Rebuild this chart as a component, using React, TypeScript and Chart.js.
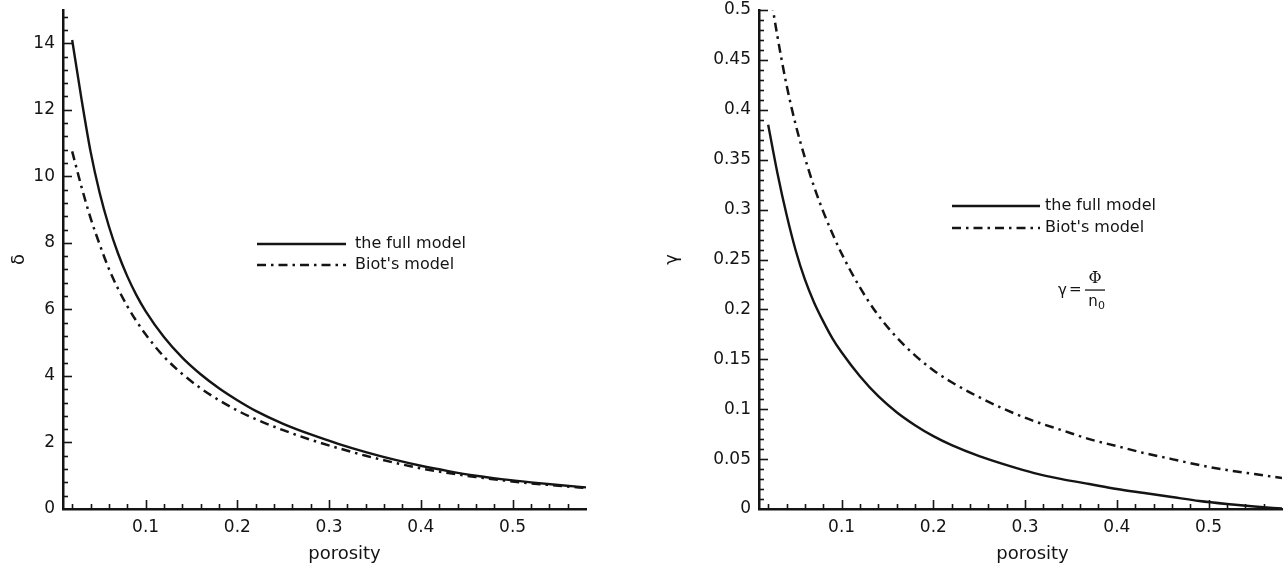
import { useEffect, useRef } from 'react';
import { Chart, registerables } from 'chart.js';

Chart.register(...registerables);

// ---------------- data ----------------
const POROSITY = [0.02, 0.03, 0.04, 0.05, 0.06, 0.07, 0.08, 0.09, 0.10, 0.12, 0.14, 0.16, 0.18, 0.20, 0.22, 0.25, 0.28, 0.31, 0.34, 0.37, 0.40, 0.43, 0.46, 0.49, 0.52, 0.55, 0.58];

const DELTA_FULL = [14.1, 12.35, 10.75, 9.5, 8.5, 7.68, 7.0, 6.43, 5.95, 5.17, 4.55, 4.05, 3.63, 3.27, 2.95, 2.56, 2.24, 1.96, 1.71, 1.49, 1.3, 1.14, 1.0, 0.89, 0.8, 0.72, 0.65];
const DELTA_BIOT = [10.75, 9.7, 8.75, 7.95, 7.22, 6.62, 6.1, 5.65, 5.25, 4.58, 4.06, 3.63, 3.27, 2.96, 2.7, 2.37, 2.08, 1.83, 1.6, 1.4, 1.22, 1.08, 0.96, 0.86, 0.77, 0.7, 0.63];

const GAMMA_FULL = [0.385, 0.337, 0.295, 0.259, 0.23, 0.207, 0.188, 0.171, 0.157, 0.133, 0.113, 0.097, 0.084, 0.073, 0.064, 0.053, 0.044, 0.036, 0.030, 0.025, 0.020, 0.016, 0.012, 0.008, 0.005, 0.0025, 0.0005];
const GAMMA_BIOT = [0.53, 0.474, 0.425, 0.385, 0.352, 0.323, 0.298, 0.276, 0.256, 0.222, 0.194, 0.172, 0.154, 0.139, 0.127, 0.112, 0.099, 0.088, 0.079, 0.070, 0.063, 0.056, 0.050, 0.044, 0.039, 0.035, 0.031];

const SERIES_LABELS = ['the full model', "Biot's model"];
const X_TITLE = 'porosity';
const X_TICKS = [0.1, 0.2, 0.3, 0.4, 0.5];
const DELTA_TICKS = [0, 2, 4, 6, 8, 10, 12, 14];
const GAMMA_TICKS = [0, 0.05, 0.1, 0.15, 0.2, 0.25, 0.3, 0.35, 0.4, 0.45, 0.5];

// ---------------- styling ----------------
const FONT = "'DejaVu Sans', sans-serif";
const INK = '#141414';
const H = 572;

interface PanelSpec {
  width: number;
  left: number;
  yTitle: string;
  full: number[];
  biot: number[];
  yTicks: number[];
  yMax: number;
  yMinor: number;
  yAxisWidth: number;
  padRight: number;
  yTitlePad: number;
  legend: { x1: number; x2: number; y: number; gap: number; textX: number };
  xTitleShift: number;
  formula?: { x: number; y: number };
}

const LEFT_PANEL: PanelSpec = {
  width: 640,
  left: 0,
  yTitle: 'δ',
  full: DELTA_FULL,
  biot: DELTA_BIOT,
  yTicks: DELTA_TICKS,
  yMax: 15,
  yMinor: 0.4,
  yAxisWidth: 63,
  padRight: 54,
  yTitlePad: 9,
  legend: { x1: 257, x2: 346, y: 244, gap: 21, textX: 355 },
  xTitleShift: 20,
};

const RIGHT_PANEL: PanelSpec = {
  width: 643,
  left: 640,
  yTitle: 'γ',
  full: GAMMA_FULL,
  biot: GAMMA_BIOT,
  yTicks: GAMMA_TICKS,
  yMax: 0.5,
  yMinor: 0.01,
  yAxisWidth: 119,
  padRight: 1,
  yTitlePad: 22,
  legend: { x1: 312, x2: 400, y: 206, gap: 22, textX: 405 },
  xTitleShift: 12,
  formula: { x: 418, y: 290 },
};

const isIn = (arr: number[], v: number) => arr.some((t) => Math.abs(t - v) < 1e-7);

function buildConfig(spec: PanelSpec): any {
  const decor = {
    id: 'decor',
    afterDraw(chart: any) {
      const ctx: CanvasRenderingContext2D = chart.ctx;
      const xs = chart.scales.x;
      const ys = chart.scales.y;
      const { left, right, bottom } = chart.chartArea;
      ctx.save();

      // inward ticks
      ctx.strokeStyle = INK;
      ctx.lineWidth = 1.6;
      ctx.setLineDash([]);
      const xMinor = 0.02;
      for (let i = Math.ceil(xs.min / xMinor - 1e-9); i * xMinor <= xs.max - 1e-6; i++) {
        const v = i * xMinor;
        const len = isIn(X_TICKS, v) ? 9 : 5;
        const px = Math.round(xs.getPixelForValue(v)) + 0.5;
        ctx.beginPath();
        ctx.moveTo(px, bottom);
        ctx.lineTo(px, bottom - len);
        ctx.stroke();
      }
      for (let i = 1; i * spec.yMinor <= ys.max + 1e-9; i++) {
        const v = i * spec.yMinor;
        const len = isIn(spec.yTicks, v) ? 9 : 5;
        const py = Math.round(ys.getPixelForValue(v)) + 0.5;
        ctx.beginPath();
        ctx.moveTo(left, py);
        ctx.lineTo(left + len, py);
        ctx.stroke();
      }

      // legend
      const L = spec.legend;
      chart.data.datasets.forEach((d: any, i: number) => {
        const y = L.y + i * L.gap;
        ctx.strokeStyle = d.borderColor;
        ctx.lineWidth = d.borderWidth;
        ctx.setLineDash(d.borderDash || []);
        ctx.beginPath();
        ctx.moveTo(L.x1, y);
        ctx.lineTo(L.x2, y);
        ctx.stroke();
        ctx.setLineDash([]);
        ctx.fillStyle = INK;
        ctx.font = `16px ${FONT}`;
        ctx.textAlign = 'left';
        ctx.textBaseline = 'middle';
        ctx.fillText(d.label, L.textX, y);
      });

      // x axis title
      ctx.fillStyle = INK;
      ctx.font = `18px ${FONT}`;
      ctx.textAlign = 'center';
      ctx.textBaseline = 'middle';
      ctx.fillText(X_TITLE, (left + right) / 2 + spec.xTitleShift, 554);

      // formula annotation
      if (spec.formula) {
        const { x, y } = spec.formula;
        ctx.textBaseline = 'middle';
        ctx.textAlign = 'left';
        ctx.font = `15px ${FONT}`;
        ctx.fillText('γ', x, y + 1);
        ctx.fillText('=', x + 11, y);
        ctx.fillRect(x + 27, y - 0.6, 20, 1.3);
        ctx.textAlign = 'center';
        ctx.font = `16px 'DejaVu Serif', serif`;
        ctx.fillText('Φ', x + 37, y - 11);
        ctx.font = `15px ${FONT}`;
        ctx.fillText('n', x + 35, y + 12);
        ctx.font = `11px ${FONT}`;
        ctx.fillText('0', x + 43.5, y + 16);
      }
      ctx.restore();
    },
  };

  const tickFont = { family: FONT, size: 17 };

  return {
    type: 'line',
    data: {
      datasets: [
        {
          label: SERIES_LABELS[0],
          data: POROSITY.map((x, i) => ({ x, y: spec.full[i] })),
          borderColor: INK,
          borderWidth: 2.4,
          pointRadius: 0,
          fill: false,
          cubicInterpolationMode: 'monotone',
        },
        {
          label: SERIES_LABELS[1],
          data: POROSITY.map((x, i) => ({ x, y: spec.biot[i] })),
          borderColor: INK,
          borderWidth: 2.5,
          borderDash: [9, 5, 2.5, 5],
          pointRadius: 0,
          fill: false,
          cubicInterpolationMode: 'monotone',
        },
      ],
    },
    options: {
      animation: false,
      responsive: false,
      events: [],
      layout: { padding: { top: 10, right: spec.padRight, left: 0, bottom: 0 } },
      plugins: { legend: { display: false }, tooltip: { enabled: false } },
      scales: {
        x: {
          type: 'linear',
          min: 0.01,
          max: 0.58,
          grid: { display: false, drawTicks: false },
          border: { display: true, color: INK, width: 2.5 },
          ticks: {
            color: INK,
            font: tickFont,
            padding: 8,
            maxRotation: 0,
            autoSkip: false,
            callback: (v: number) => String(v),
          },
          afterBuildTicks: (s: any) => {
            s.ticks = X_TICKS.map((v) => ({ value: v }));
          },
          afterFit: (s: any) => {
            s.height = 63;
            s.paddingLeft = 0;
            s.paddingRight = 0;
          },
        },
        y: {
          type: 'linear',
          min: 0,
          max: spec.yMax,
          grid: { display: false, drawTicks: false },
          border: { display: true, color: INK, width: 2.5 },
          ticks: {
            color: INK,
            font: tickFont,
            padding: 8,
            autoSkip: false,
            callback: (v: number) => String(v),
          },
          title: {
            display: true,
            text: spec.yTitle,
            color: INK,
            font: { family: FONT, size: 18 },
            padding: { top: spec.yTitlePad, bottom: 0 },
          },
          afterBuildTicks: (s: any) => {
            s.ticks = spec.yTicks.map((v) => ({ value: v }));
          },
          afterFit: (s: any) => {
            s.width = spec.yAxisWidth;
            s.paddingTop = 0;
            s.paddingBottom = 0;
          },
        },
      },
    },
    plugins: [decor],
  };
}

function Panel({ spec }: { spec: PanelSpec }) {
  const ref = useRef<HTMLCanvasElement | null>(null);
  useEffect(() => {
    if (!ref.current) return;
    const chart = new Chart(ref.current, buildConfig(spec));
    return () => chart.destroy();
  }, [spec]);
  return (
    <canvas
      ref={ref}
      width={spec.width}
      height={H}
      style={{ position: 'absolute', left: spec.left, top: 0, width: spec.width, height: H, display: 'block' }}
    />
  );
}

export default function App() {
  return (
    <div style={{ position: 'absolute', left: 0, top: 0, width: 1283, height: H, background: '#ffffff', overflow: 'hidden' }}>
      <Panel spec={LEFT_PANEL} />
      <Panel spec={RIGHT_PANEL} />
    </div>
  );
}
